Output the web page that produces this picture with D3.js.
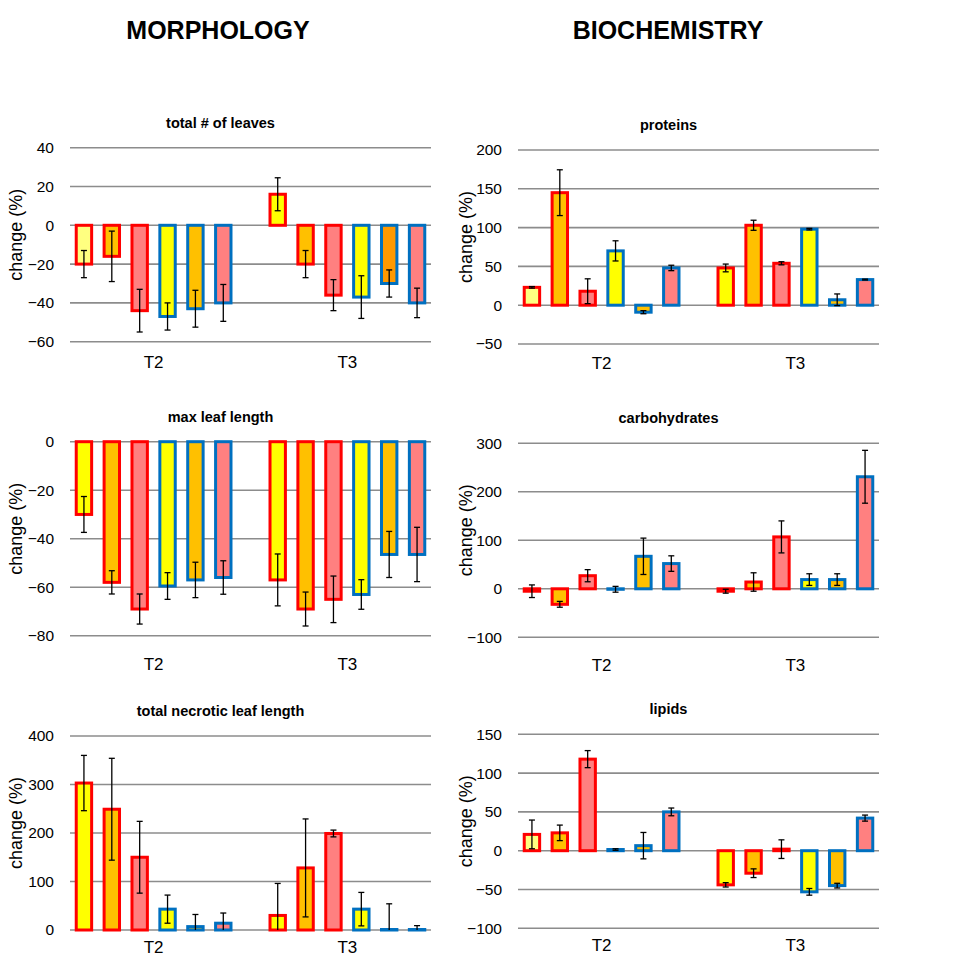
<!DOCTYPE html>
<html>
<head>
<meta charset="utf-8">
<script src="https://cdn.jsdelivr.net/npm/d3@7"></script>
<style>
  body { margin: 0; background: #fff; }
  text { font-family: "Liberation Sans", Arial, sans-serif; fill: #000; }
</style>
</head>
<body>
<svg id="chart"></svg>
<script>
// categories and series
const categories = ["T2", "T3"];
const seriesIds = ["s1", "s2", "s3", "s4", "s5", "s6"];
const seriesFill = ["#FFFF00", "#FFC000", "#FF8080", "#FFFF00", "#FFC000", "#FF8080"];
const seriesStroke = ["#FF0000", "#FF0000", "#FF0000", "#0070C0", "#0070C0", "#0070C0"];

// values per panel, [T2 series 1..6], [T3 series 1..6]
const leavesMean = [[-20, -16, -44, -47, -43, -40], [16, -20, -36, -37, -30, -40]];
const leavesErr  = [[7, 13, 11, 7, 9.5, 9.5], [8.5, 7, 8, 11, 7, 7.6]];

const lengthMean = [[-30, -58, -69, -59.5, -57, -56], [-57, -69, -65, -63, -46.5, -46.5]];
const lengthErr  = [[7.4, 4.8, 6.2, 5.5, 7.3, 6.9], [10.7, 7, 9.6, 6.1, 9.5, 11.2]];

const necroMean = [[303, 249, 150, 43, 7, 14], [30, 128, 199, 43, 1, 1]];
const necroErr  = [[57, 105, 74, 29, 25, 21], [66, 101, 7, 34.5, 53, 8]];

const protMean = [[23, 145, 18, 70, -9, 48], [48, 103, 54, 98, 7, 33]];
const protErr  = [[1, 29.5, 16, 13, 2, 3.5], [5, 6.5, 2, 1, 7.5, 0.6]];

const carbMean = [[-5, -32, 27, -1, 67, 52], [-5, 14, 107, 19, 19, 231]];
const carbErr  = [[13, 6, 12.5, 6, 37.5, 16], [4, 19, 33, 12, 12, 54.5]];

const lipMean = [[21, 23, 118, 1.5, 6.5, 50], [-44, -29, 2, -53, -45, 42]];
const lipErr  = [[18.5, 10, 11, 1, 17, 5], [2.8, 5.6, 12, 4.3, 3, 3.9]];

// a few bars have a different fill shade in the original
const fillOverride = [
  {panel: "leaves", cat: 0, s: 0, fill: "#FFFF80"},
  {panel: "leaves", cat: 1, s: 4, fill: "#FF9900"},
  {panel: "prot", cat: 0, s: 0, fill: "#FFFF80"},
  {panel: "lip", cat: 0, s: 0, fill: "#FFFF80"}
];

const panels = [
  {id: "leaves", title: "total # of leaves", mean: leavesMean, err: leavesErr, domain: [-60, 40], ticks: [-60, -40, -20, 0, 20, 40], left: 70, top: 147.7, catDy: 20},
  {id: "length", title: "max leaf length", mean: lengthMean, err: lengthErr, domain: [-80, 0], ticks: [-80, -60, -40, -20, 0], left: 70, top: 441.7, catDy: 28},
  {id: "necro", title: "total necrotic leaf length", mean: necroMean, err: necroErr, domain: [0, 400], ticks: [0, 100, 200, 300, 400], left: 70, top: 736, catDy: 17},
  {id: "prot", title: "proteins", mean: protMean, err: protErr, domain: [-50, 200], ticks: [-50, 0, 50, 100, 150, 200], left: 518, top: 150, catDy: 19},
  {id: "carb", title: "carbohydrates", mean: carbMean, err: carbErr, domain: [-100, 300], ticks: [-100, 0, 100, 200, 300], left: 518, top: 443.3, catDy: 28},
  {id: "lip", title: "lipids", mean: lipMean, err: lipErr, domain: [-100, 150], ticks: [-100, -50, 0, 50, 100, 150], left: 518, top: 734.3, catDy: 17}
];

var svgWidth = 957, svgHeight = 962;
var plotWidth = 361, plotHeight = 194;
var barStroke = 3;

var svg = d3.select("#chart")
    .attr("width", svgWidth)
    .attr("height", svgHeight);

svg.append("text")
    .text("MORPHOLOGY")
    .attr("x", 218)
    .attr("y", 39)
    .attr("text-anchor", "middle")
    .attr("font-size", 25)
    .attr("font-weight", "bold");

svg.append("text")
    .text("BIOCHEMISTRY")
    .attr("x", 668)
    .attr("y", 39)
    .attr("text-anchor", "middle")
    .attr("font-size", 25)
    .attr("font-weight", "bold");

panels.forEach(function(p) {
    var g = svg.append("g")
        .attr("transform", "translate(" + p.left + "," + p.top + ")");

    var y = d3.scaleLinear()
        .domain(p.domain)
        .range([plotHeight, 0])
        .clamp(true);

    var x0 = d3.scaleBand()
        .domain(categories)
        .range([0, plotWidth])
        .paddingInner(0.137)
        .paddingOuter(0);

    var x1 = d3.scaleBand()
        .domain(seriesIds)
        .range([0, x0.bandwidth()])
        .paddingInner(0.34)
        .paddingOuter(0.17);

    // gridlines
    g.append("g")
        .selectAll("line")
        .data(p.ticks)
        .enter()
        .append("line")
        .attr("x1", 0)
        .attr("x2", plotWidth)
        .attr("y1", function(d) { return y(d); })
        .attr("y2", function(d) { return y(d); })
        .attr("stroke", "#8c8c8c")
        .attr("stroke-width", 1.6);

    // y axis tick labels
    var yAxis = d3.axisLeft(y)
        .tickValues(p.ticks)
        .tickSize(0)
        .tickPadding(16)
        .tickFormat(d3.format("d"));
    var ax = g.append("g").call(yAxis);
    ax.select(".domain").remove();
    ax.selectAll("text")
        .attr("font-size", 15.5)
        .attr("font-family", "Liberation Sans, Arial, sans-serif")
        .attr("fill", "#000");

    g.append("text")
        .text("change (%)")
        .attr("transform", "translate(" + (p.left < 300 ? -48 : -46) + "," + (plotHeight / 2 - 10) + ") rotate(-90)")
        .attr("text-anchor", "middle")
        .attr("font-size", 18);

    g.append("text")
        .text(p.title)
        .attr("x", plotWidth / 2 - 30)
        .attr("y", -20)
        .attr("text-anchor", "middle")
        .attr("font-size", 14.5)
        .attr("font-weight", "bold");

    // category labels
    g.append("g")
        .selectAll("text")
        .data(categories)
        .enter()
        .append("text")
        .text(function(d) { return d; })
        .attr("x", function(d) { return x0(d) + x0.bandwidth() / 2; })
        .attr("y", plotHeight + p.catDy + 6)
        .attr("text-anchor", "middle")
        .attr("font-size", 17);

    // flatten into bar records
    var bars = [];
    categories.forEach(function(c, ci) {
        seriesIds.forEach(function(s, si) {
            var fill = seriesFill[si];
            fillOverride.forEach(function(o) {
                if (o.panel == p.id && o.cat == ci && o.s == si) { fill = o.fill; }
            });
            bars.push({cat: c, s: s, si: si, v: p.mean[ci][si], e: p.err[ci][si], fill: fill});
        });
    });

    g.append("g")
        .selectAll("rect")
        .data(bars)
        .enter()
        .append("rect")
        .attr("x", function(d) { return x0(d.cat) + x1(d.s) + barStroke / 2; })
        .attr("width", x1.bandwidth() - barStroke)
        .attr("y", function(d) { return Math.min(y(d.v), y(0)); })
        .attr("height", function(d) { return Math.abs(y(d.v) - y(0)); })
        .attr("fill", function(d) { return d.fill; })
        .attr("stroke", function(d) { return seriesStroke[d.si]; })
        .attr("stroke-width", barStroke);

    // error bars
    var eb = g.append("g")
        .selectAll("g")
        .data(bars)
        .enter()
        .append("g")
        .attr("transform", function(d) {
            return "translate(" + (x0(d.cat) + x1(d.s) + x1.bandwidth() / 2) + ",0)";
        });

    eb.append("line")
        .attr("x1", 0).attr("x2", 0)
        .attr("y1", function(d) { return y(d.v + d.e); })
        .attr("y2", function(d) { return y(d.v - d.e); })
        .attr("stroke", "#000")
        .attr("stroke-width", 1.3);

    eb.append("line")
        .attr("x1", -3).attr("x2", 3)
        .attr("y1", function(d) { return y(d.v + d.e); })
        .attr("y2", function(d) { return y(d.v + d.e); })
        .attr("stroke", "#000")
        .attr("stroke-width", 1.3);

    eb.filter(function(d) { return d.v - d.e >= p.domain[0]; })
        .append("line")
        .attr("x1", -3).attr("x2", 3)
        .attr("y1", function(d) { return y(d.v - d.e); })
        .attr("y2", function(d) { return y(d.v - d.e); })
        .attr("stroke", "#000")
        .attr("stroke-width", 1.3);
});
</script>
</body>
</html>
